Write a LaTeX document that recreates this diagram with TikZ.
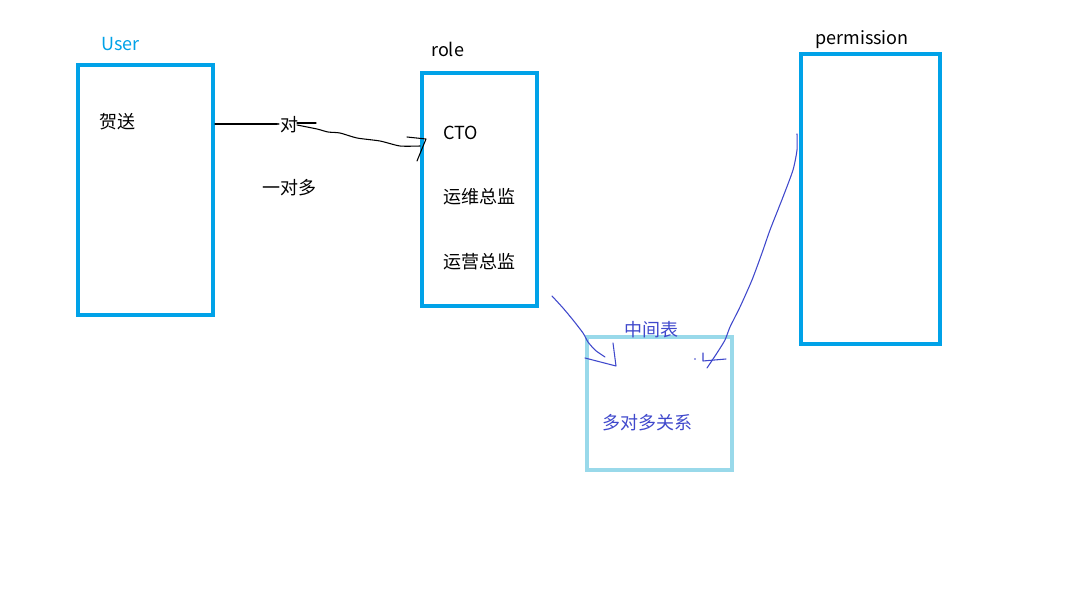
\documentclass[tikz,border=0pt]{standalone}
\usepackage{fontspec}
\setmainfont{Noto Sans CJK SC}
\definecolor{boxblue}{RGB}{0,162,232}
\definecolor{lightbox}{RGB}{153,217,234}
\definecolor{penblue}{RGB}{63,72,204}
\tikzset{
  bigbox/.style={draw=boxblue, line width=3pt, inner sep=0pt},
  midbox/.style={draw=lightbox, line width=3pt, inner sep=0pt},
  lbl/.style={anchor=west, inner sep=0pt, font=\fontsize{13.5}{16}\selectfont},
  pen/.style={draw=penblue, line width=0.8pt, line cap=round, line join=round},
  ink/.style={draw=black, line width=0.8pt, line cap=round, line join=round},
}
\begin{document}
\begin{tikzpicture}[x=0.75pt,y=-0.75pt]
\useasboundingbox (0,0) rectangle (1079,606);
\fill[white] (0,0) rectangle (1079,606);

% boxes
\node[bigbox, minimum width=101.25pt, minimum height=187.5pt] (user) at (145.5,190) {};
\node[bigbox, minimum width=86.25pt, minimum height=174.75pt] (role) at (479.5,189.5) {};
\node[bigbox, minimum width=104.25pt, minimum height=217.5pt] (perm) at (870.5,199) {};
\node[midbox, minimum width=108.75pt, minimum height=99.75pt] (mid) at (659.5,403.5) {};

% labels
\node[lbl, text=boxblue] (tuser) at (101,44) {User};
\node[lbl] (trole) at (431,49) {role};
\node[lbl] (tperm) at (815,40) {permission};
\node[lbl] (t1) at (99,122) {贺送};
\node[lbl] (t2) at (262,125) {一对};
\node[lbl] (t3) at (262,188) {一对多};
\node[lbl] (t4) at (443,133) {CTO};
\node[lbl] (t5) at (443,197) {运维总监};
\node[lbl] (t6) at (443,262) {运营总监};
\node[lbl, text=penblue] (t7) at (624,330) {中间表};
\node[lbl, text=penblue] (t8) at (602,423) {多对多关系};

% black hand-drawn connector user -> role
\coordinate (a0) at (215,124);
\coordinate (a1) at (277,124);
\coordinate (a2) at (297,123);
\coordinate (a3) at (316,123);
\draw[ink] (a0) -- (a1);
\draw[ink] (a2) -- (a3);
\draw[ink] plot[smooth, tension=0.4] coordinates {(297,125) (317,129) (328,132) (340,133) (357,138) (380,141) (400,146) (420,146)};
\draw[ink] (407,137) -- (426,139) -- (417,161);

% blue connector role -> mid
\draw[pen] plot[smooth, tension=0.4] coordinates {(552,296) (563,308) (573,320) (583,333) (588,342) (595,350) (602,355) (605,357)};
\draw[pen] (585,358) -- (616,366) -- (613,343);

% blue connector perm -> mid
\draw[pen] plot[smooth, tension=0.4] coordinates {(797,134) (797,150) (793,170) (783,197) (770,230) (762,253) (752,280) (740,307) (730,327) (725,340) (717,353) (707,368)};
\draw[pen] (703,353) -- (703,361) -- (726,359);
\fill[penblue] (695,359) circle (0.8);
\end{tikzpicture}
\end{document}
